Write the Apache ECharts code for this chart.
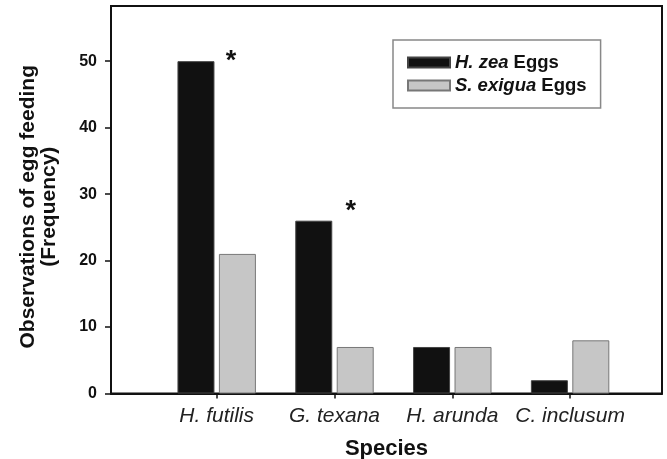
<!DOCTYPE html>
<html>
<head>
<meta charset="utf-8">
<script src="https://cdn.jsdelivr.net/npm/echarts@6/dist/echarts.min.js"></script>
<style>
  html, body { margin: 0; padding: 0; background: #fff; }
  #chart { width: 667px; height: 459px; }
</style>
</head>
<body>
<div id="chart"></div>
<script>
// Predator species observed feeding on eggs
const species = ['H. futilis', 'G. texana', 'H. arunda', 'C. inclusum'];
// Feeding observations per egg type
const hzeaEggs = [50, 26, 7, 2];
const sexiguaEggs = [21, 7, 7, 8];
// Legend entries: taxon (italic) + suffix
const seriesNames = ['H. zea Eggs', 'S. exigua Eggs'];
const seriesTaxa = ['H. zea', 'S. exigua'];
// Y axis tick labels
const yTicks = [0, 10, 20, 30, 40, 50];
// Species with a significant difference (marked with an asterisk)
const significant = [true, true, false, false];

const FONT = '"Liberation Sans", Arial, Helvetica, sans-serif';
const xPositions = species.map((_, i) => i + 1);

// per-category placement of the asterisk relative to the black bar
const starOffsets = [[35, 18.5], [37, 9.5], [0, 0], [0, 0]];

const hzeaData = hzeaEggs.map((v, i) => {
  const item = { value: [xPositions[i], v] };
  if (significant[i]) {
    item.label = {
      show: true,
      formatter: '*',
      position: 'top',
      offset: starOffsets[i],
      fontSize: 27,
      fontWeight: 'bold',
      color: '#111',
      fontFamily: FONT
    };
  }
  return item;
});
const sexiguaData = sexiguaEggs.map((v, i) => [xPositions[i], v]);

const chart = echarts.init(document.getElementById('chart'), null, { renderer: 'canvas' });

chart.setOption({
  animation: false,
  backgroundColor: '#fff',
  textStyle: { fontFamily: FONT },
  grid: {
    left: 111, right: 5, top: 6, bottom: 65.5,
    containLabel: false,
    outerBoundsMode: 'none',
    show: true, borderColor: '#111', borderWidth: 2, backgroundColor: 'transparent'
  },
  legend: {
    orient: 'vertical',
    left: 393, top: 40,
    padding: [13, 14, 13, 14],
    itemWidth: 42, itemHeight: 10, itemGap: 4, itemTextGap: 10,
    icon: 'rect',
    borderColor: '#888', borderWidth: 1.5, backgroundColor: '#fff',
    data: seriesNames,
    formatter: name => {
      const idx = seriesNames.indexOf(name);
      const taxon = seriesTaxa[idx];
      return '{i|' + taxon + '}' + name.slice(taxon.length);
    },
    textStyle: {
      fontSize: 18.5, fontWeight: 'bold', color: '#111', fontFamily: FONT,
      rich: { i: { fontSize: 18.5, fontWeight: 'bold', fontStyle: 'italic', color: '#111', fontFamily: FONT } }
    }
  },
  xAxis: {
    type: 'value',
    min: 0.103, max: 4.78,
    splitLine: { show: false },
    axisLine: { show: true, onZero: false, lineStyle: { color: '#111', width: 2 } },
    axisTick: { show: true, customValues: xPositions, length: 5, lineStyle: { color: '#111', width: 1.5 } },
    axisLabel: {
      customValues: xPositions,
      formatter: v => species[Math.round(v) - 1],
      fontSize: 21, fontStyle: 'italic', color: '#222', margin: 12, fontFamily: FONT
    },
    name: 'Species',
    nameLocation: 'middle',
    nameGap: 44,
    nameTextStyle: { fontSize: 22, fontWeight: 'bold', color: '#111', fontFamily: FONT }
  },
  yAxis: {
    type: 'value',
    min: 0, max: 58.3,
    splitLine: { show: false },
    axisLine: { show: true, lineStyle: { color: '#111', width: 2 } },
    axisTick: { show: true, customValues: yTicks, length: 6, lineStyle: { color: '#111', width: 1.5 } },
    axisLabel: {
      customValues: yTicks,
      fontSize: 16, fontWeight: 'bold', color: '#111', margin: 14, fontFamily: FONT
    },
    name: 'Observations of egg feeding\n(Frequency)',
    nameLocation: 'middle',
    nameGap: 51,
    nameTextStyle: {
      fontSize: 21, fontWeight: 'bold', color: '#111', lineHeight: 21.5,
      padding: [0, 14, 0, 0], fontFamily: FONT
    }
  },
  series: [
    {
      name: seriesNames[0],
      type: 'bar',
      barWidth: 37,
      barGap: '12%',
      itemStyle: { color: '#111111', borderColor: '#444', borderWidth: 1 },
      data: hzeaData
    },
    {
      name: seriesNames[1],
      type: 'bar',
      barWidth: 37,
      barGap: '12%',
      itemStyle: { color: '#c6c6c6', borderColor: '#777', borderWidth: 1 },
      data: sexiguaData
    }
  ]
});
</script>
</body>
</html>
